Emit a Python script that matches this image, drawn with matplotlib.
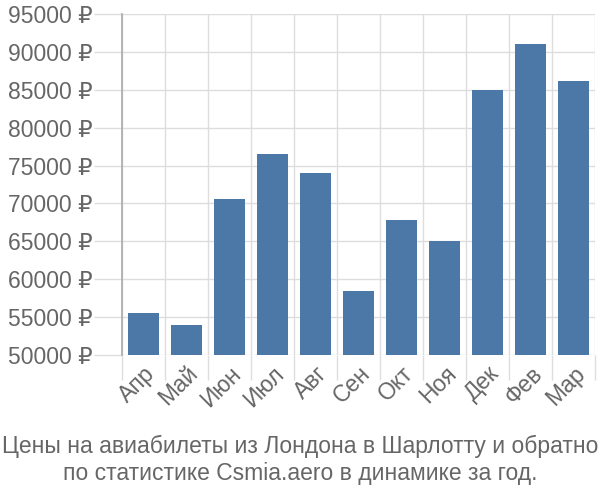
import matplotlib
matplotlib.use("Agg")
import matplotlib.pyplot as plt
from matplotlib.ticker import FuncFormatter

months = ["Апр", "Май", "Июн", "Июл", "Авг", "Сен", "Окт", "Ноя", "Дек", "Фев", "Мар"]
prices = [55500, 54000, 70600, 76500, 74000, 58400, 67800, 65000, 85000, 91000, 86100]
y_ticks = [50000, 55000, 60000, 65000, 70000, 75000, 80000, 85000, 90000, 95000]
title = "Цены на авиабилеты из Лондона в Шарлотту и обратно\nпо статистике Csmia.aero в динамике за год."

plt.rcParams['font.family'] = ['Liberation Sans', 'DejaVu Sans']
grey = "#666666"
grid_c = "#dddddd"

fig = plt.figure(figsize=(6, 5), dpi=100)
ax = fig.add_axes([0.2033, 0.29, 0.7887, 0.682])

x = list(range(len(months)))
base = y_ticks[0]
ax.bar(x, [p - base for p in prices], bottom=base, width=0.71, color="#4c78a8", zorder=3)

ax.set_xlim(-0.5, len(months) - 0.5)
ax.set_ylim(y_ticks[0], y_ticks[-1])
ax.set_yticks(y_ticks)
ax.yaxis.set_major_formatter(FuncFormatter(lambda v, p: f"{int(v)} ₽"))
ax.set_xticks([i - 0.5 for i in x] + [len(months) - 0.5], minor=False)
ax.set_xticklabels([""] * (len(months) + 1))
ax.set_xticks(x, minor=True)
ax.set_xticklabels(months, minor=True, rotation=45, ha="right", va="top",
                   rotation_mode="anchor", fontsize=16.5, color=grey)
ax.tick_params(axis="x", which="minor", length=0, pad=5)
ax.tick_params(axis="x", which="major", length=18, color=grid_c, width=1)
ax.tick_params(axis="y", length=20, color=grid_c, width=1, labelsize=16.5, labelcolor=grey, pad=1)

ax.grid(True, which="major", color=grid_c, linewidth=1, zorder=0)
for s in ["top", "right", "bottom"]:
    ax.spines[s].set_visible(False)
ax.spines["left"].set_color("#aaaaaa")
ax.spines["left"].set_linewidth(1.2)
ax.spines["left"].set_zorder(4)

fig.text(0.5, 0.08, title, ha="center", va="center", fontsize=16.5, color=grey, linespacing=1.2)

fig.savefig("out.png", dpi=100)
